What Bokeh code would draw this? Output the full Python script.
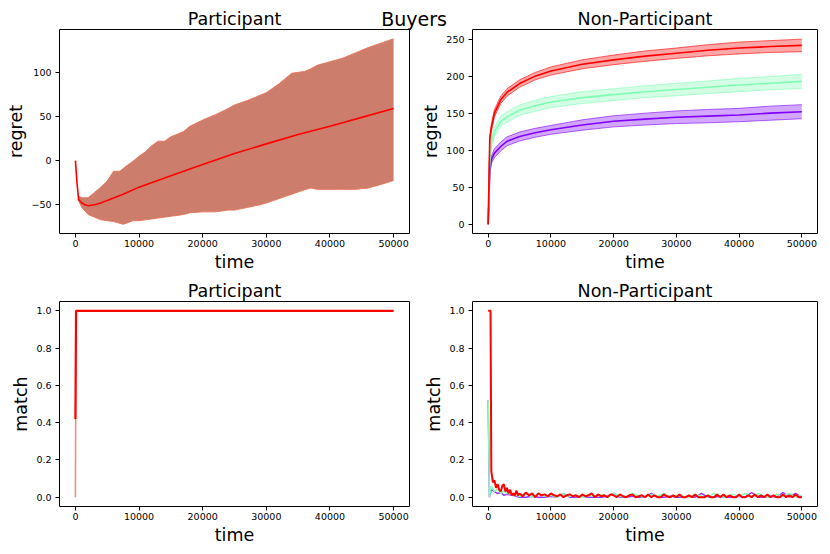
import numpy as np
from bokeh.plotting import figure
from bokeh.models import Range1d, FixedTicker, PrintfTickFormatter, GridBox, Div
from bokeh.embed import file_html
from bokeh.resources import INLINE

# ---------------- data ----------------
# Participant regret (top-left)
t_part = [0, 250, 500, 1000, 1500, 2000, 3000, 4000, 5000, 7500, 10000, 15000,
          20000, 25000, 30000, 35000, 40000, 45000, 50000]
part_mean = [0, -25, -44, -48, -50, -51, -50, -48, -45, -38, -30, -17,
             -4.5, 8, 19, 29.5, 39, 49, 59]
t_band = [400, 1000, 2000, 3000, 4000, 5000, 6000, 7000, 7500, 8000,
          9000, 10000, 11000, 12000, 13000, 14000, 15000, 16000, 17000, 18000,
          20000, 22000, 24000, 25000, 27000, 29000, 30000, 31000, 32000, 33000,
          34000, 35000, 36000, 37000, 38000, 40000, 42000, 44000, 46000, 48000,
          50000]
part_upper = [-40, -42, -42, -36, -30, -23, -12, -12, -9, -6,
              -1, 5, 10, 17, 22, 22, 27, 30, 33, 39,
              46, 52, 59, 63, 68, 74, 77, 82, 87, 93,
              99, 100, 101, 104, 108, 112, 116, 122, 128, 133,
              138]
part_lower = [-44, -53, -61, -64, -67, -68, -69, -71, -72, -71,
              -68, -68, -67, -66, -65, -64, -63, -62, -61, -59,
              -58, -58, -56, -56, -53, -50, -48, -45.5, -43, -40.5,
              -38, -35.5, -33, -31, -32.5, -32.5, -32.5, -32.5, -31, -27,
              -22.5]

# Non-participant regret (top-right)
t_np = [0, 250, 500, 1000, 2000, 3000, 5000, 7500, 10000, 15000, 20000,
        25000, 30000, 35000, 40000, 45000, 50000]
np_red_mean = [0, 115, 130, 150, 168, 178, 190, 200, 207, 216, 222,
               227, 231, 235, 238, 240, 241.5]
np_red_half = [0, 4, 5, 5, 5, 5, 5, 5, 5.5, 6, 6.5, 7, 7, 7.5, 8, 8, 8.5]
np_green_mean = [0, 85, 110, 125, 139, 145, 154, 160, 165, 171, 175,
                 179, 182, 185, 188, 190.5, 193]
np_green_half = [0, 5, 6, 6, 7, 7, 7, 7.5, 7.5, 8, 8, 8, 8.5, 8.5, 9, 9, 9.5]
np_purple_mean = [0, 70, 87, 96, 105, 112, 118.5, 123.5, 127.5, 134, 139,
                  142, 144.5, 146, 147.5, 150, 152]
np_purple_half = [0, 4, 5, 6, 6, 6, 6, 6, 6, 7, 7.5, 8, 8.5, 9, 9, 9.5, 9.5]

# Participant match (bottom-left)
t_pm = [0, 100, 50000]
pm_red = [0.42, 1.0, 1.0]
t_pm2 = [0, 100]
pm_other = [0.0, 1.0]

# Non-participant match (bottom-right)
t_nm_red = [0, 125, 250, 375] + list(range(500, 5000, 250)) + list(range(5000, 50001, 500))
nm_red = [1.0, 1.0, 1.0, 1.0,
          0.14, 0.08, 0.09, 0.05, 0.07, 0.04, 0.03, 0.06,
          0.07, 0.03, 0.05, 0.02, 0.04, 0.01, 0.02, 0.01, 0.035, 0.01,
          0.02, 0.005, 0.025, 0.01, 0.02, 0.0, 0.02, 0.01, 0.015, 0.005,
          0.02, 0.01, 0.005, 0.015, 0.0, 0.01, 0.015, 0.005, 0.01, 0.0,
          0.015, 0.005, 0.01, 0.02, 0.0, 0.015, 0.005, 0.01, 0.0, 0.015,
          0.01, 0.0, 0.015, 0.005, 0.0, 0.01, 0.015, 0.0, 0.005, 0.01,
          0.0, 0.015, 0.0, 0.01, 0.0, 0.0, 0.015, 0.005, 0.0, 0.01,
          0.0, 0.015, 0.0, 0.0, 0.01, 0.0, 0.015, 0.0, 0.0, 0.0,
          0.01, 0.0, 0.0, 0.015, 0.0, 0.015, 0.0, 0.01, 0.0, 0.0,
          0.015, 0.0, 0.0, 0.01, 0.0, 0.015, 0.0, 0.01, 0.0, 0.015,
          0.0, 0.01, 0.0, 0.0, 0.015, 0.0, 0.01, 0.0, 0.015, 0.0,
          0.0]
t_nm_gp = [0, 200, 500, 1000, 1500, 2000, 2500, 3000, 4000] + list(range(5000, 50001, 1000))
nm_green = [0.52, 0.0, 0.06, 0.03, 0.045, 0.02, 0.035, 0.02, 0.015,
            0.005, 0.02, 0.0, 0.02, 0.005, 0.01, 0.0, 0.02, 0.005, 0.01,
            0.0, 0.01, 0.005, 0.015, 0.0, 0.02, 0.005, 0.0, 0.02, 0.005,
            0.0, 0.015, 0.005, 0.02, 0.0, 0.01, 0.005, 0.0, 0.015, 0.005,
            0.0, 0.02, 0.005, 0.0, 0.015, 0.005, 0.02, 0.0, 0.02, 0.005,
            0.0, 0.015, 0.005, 0.02, 0.0, 0.01]
nm_purple = [0.52, 0.0, 0.04, 0.03, 0.02, 0.025, 0.01, 0.015, 0.01,
             0.0, 0.0, 0.005, 0.0, 0.0, 0.005, 0.0, 0.02, 0.0, 0.0,
             0.005, 0.0, 0.0, 0.0, 0.005, 0.02, 0.0, 0.0, 0.005, 0.0,
             0.0, 0.02, 0.0, 0.0, 0.005, 0.0, 0.0, 0.005, 0.0, 0.02,
             0.0, 0.0, 0.005, 0.0, 0.0, 0.005, 0.0, 0.025, 0.0, 0.0,
             0.005, 0.0, 0.025, 0.0, 0.02, 0.0]

x_ticks = [0, 10000, 20000, 30000, 40000, 50000]
PURPLE, GREEN, RED = "#8000ff", "#80ffb4", "#ff0000"
FONT = "DejaVu Sans"


def make_fig(width, height, left, right, top, bottom, title, ylabel, yr, yticks, yfmt=None):
    p = figure(width=width, height=height, output_backend="svg", toolbar_location=None,
               x_range=Range1d(-2500, 52500), y_range=Range1d(*yr),
               min_border_left=left, min_border_right=right,
               min_border_top=top, min_border_bottom=bottom)
    p.title.text = title
    p.title.align = "center"
    p.title.text_font = FONT
    p.title.text_font_size = "17.5px"
    p.title.text_font_style = "normal"
    p.title.text_color = "black"
    p.title.standoff = 1
    p.xgrid.visible = False
    p.ygrid.visible = False
    p.outline_line_color = "black"
    p.outline_line_width = 1
    p.outline_line_alpha = 1
    p.xaxis.ticker = FixedTicker(ticks=x_ticks)
    p.yaxis.ticker = FixedTicker(ticks=yticks)
    if yfmt:
        p.yaxis.formatter = PrintfTickFormatter(format=yfmt)
    p.xaxis.axis_label = "time"
    p.yaxis.axis_label = ylabel
    for ax in p.axis:
        ax.axis_line_color = None
        ax.major_tick_out = 4
        ax.major_tick_in = 0
        ax.minor_tick_out = 0
        ax.minor_tick_in = 0
        ax.major_tick_line_color = "black"
        ax.major_label_text_font = FONT
        ax.major_label_text_font_size = "9.5px"
        ax.major_label_text_color = "black"
        ax.axis_label_text_font = FONT
        ax.axis_label_text_font_size = "17.5px"
        ax.axis_label_text_font_style = "normal"
        ax.axis_label_text_color = "black"
        ax.axis_label_standoff = 2
    p.xaxis.major_label_standoff = 2
    p.yaxis.major_label_standoff = 4
    return p


# top-left
p1 = make_fig(418, 274, 59, 9, 29, 40, "Participant", "regret", (-82.5, 148.5), [-50, 0, 50, 100])
p1.yaxis.major_label_overrides = {-50: "\u221250"}
p1.varea(x=t_band, y1=part_lower, y2=part_upper, fill_color="#cc7d6b", fill_alpha=1.0)
p1.line(t_band, part_upper, line_color="#e8735a", line_width=1, line_alpha=0.9)
p1.line(t_band, part_lower, line_color="#e8735a", line_width=1, line_alpha=0.9)
p1.line(t_part, part_mean, line_color=RED, line_width=1.6)

# top-right
p2 = make_fig(410, 274, 49, 11, 29, 40, "Non-Participant", "regret", (-12.5, 263), [0, 50, 100, 150, 200, 250])
for mean, half, col in [(np_purple_mean, np_purple_half, PURPLE),
                        (np_green_mean, np_green_half, GREEN),
                        (np_red_mean, np_red_half, RED)]:
    m = np.array(mean, dtype=float)
    h = np.array(half, dtype=float)
    p2.varea(x=t_np, y1=m - h, y2=m + h, fill_color=col, fill_alpha=0.35)
    p2.line(t_np, m + h, line_color=col, line_width=1, line_alpha=0.6)
    p2.line(t_np, m - h, line_color=col, line_width=1, line_alpha=0.6)
    p2.line(t_np, m, line_color=col, line_width=1.6)

# bottom-left
yt = [0.0, 0.2, 0.4, 0.6, 0.8, 1.0]
p3 = make_fig(418, 276, 59, 9, 27, 44, "Participant", "match", (-0.05, 1.05), yt, "%.1f")
p3.line(t_pm2, pm_other, line_color="#f08a78", line_width=1.5)
p3.line(t_pm, pm_red, line_color=RED, line_width=2.2)

# bottom-right
p4 = make_fig(410, 276, 49, 11, 27, 44, "Non-Participant", "match", (-0.05, 1.05), yt, "%.1f")
p4.line(t_nm_gp, nm_purple, line_color=PURPLE, line_width=1.5, line_alpha=0.8)
p4.line(t_nm_gp, nm_green, line_color=GREEN, line_width=1.5)
p4.line(t_nm_red, nm_red, line_color=RED, line_width=2)

sup = Div(text="Buyers", width=828, height=40, margin=0,
          styles={"font-family": FONT, "font-size": "19px", "text-align": "center",
                  "line-height": "22px", "color": "black", "padding-top": "8px"})

grid = GridBox(children=[(p1, 0, 0), (p2, 0, 1), (p3, 1, 0), (p4, 1, 1), (sup, 0, 0, 1, 2)],
               spacing=0)

open("out.html", "w").write(file_html(grid, INLINE))
